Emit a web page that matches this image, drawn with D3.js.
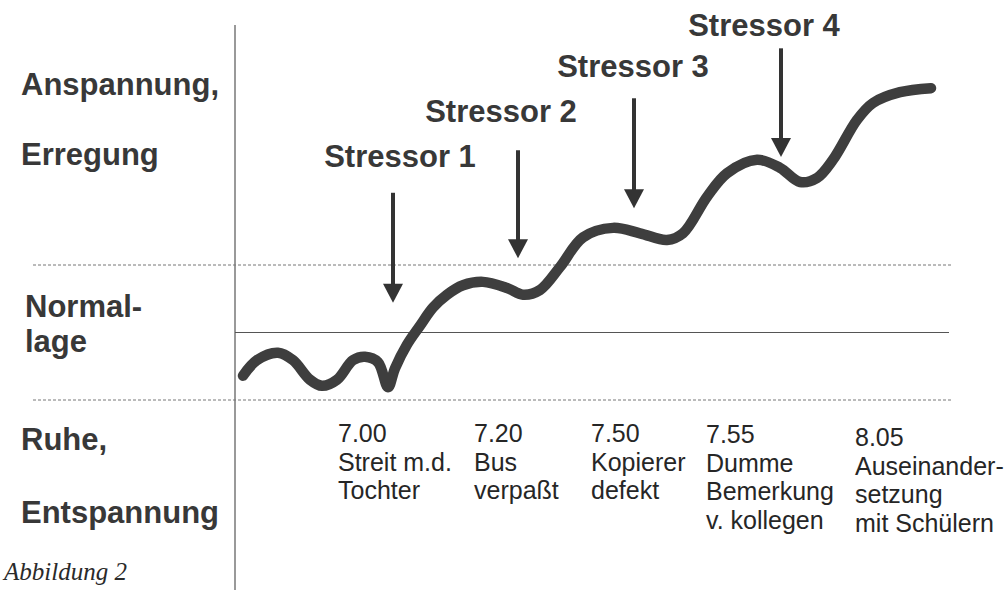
<!DOCTYPE html>
<html>
<head>
<meta charset="utf-8">
<title>Stressoren</title>
<script src="https://d3js.org/d3.v7.min.js"></script>
<style>
    body { margin: 0; background: #fff; }
    svg { display: block; }
    .lvl { font-family: "Liberation Sans", Arial, sans-serif; font-weight: bold; font-size: 31px; fill: #383838; }
    .evt { font-family: "Liberation Sans", Arial, sans-serif; font-size: 25px; fill: #262626; }
    .cap { font-family: "Liberation Serif", serif; font-style: italic; font-size: 25px; fill: #2a2a2a; }
</style>
</head>
<body>
<div id="cont"></div>
<script>
    // curve: t = position along the time axis, level: 0 = Ruhe line, 1 = Normal, 2 = upper line
    var curveT = [8, 22, 43, 58, 75, 87, 102, 118, 130, 143, 153, 160, 172, 185, 198, 212, 228, 248, 272, 288, 305,
                  325, 348, 378, 405, 432, 448, 472, 492, 522, 545, 565, 582, 598, 622, 638, 665, 696];
    var curveLevel = [0.36, 0.59, 0.70, 0.59, 0.30, 0.21, 0.30, 0.59, 0.64, 0.56, 0.19, 0.47, 0.82, 1.10, 1.37, 1.56,
                      1.70, 1.75, 1.66, 1.56, 1.63, 1.97, 2.41, 2.55, 2.47, 2.37, 2.47, 3.01, 3.36, 3.56, 3.44, 3.23,
                      3.29, 3.56, 4.15, 4.40, 4.56, 4.62];

    var stressorNames = ['Stressor 1', 'Stressor 2', 'Stressor 3', 'Stressor 4'];
    var stressorT = [158, 283, 399, 546];
    var arrowFrom = [3.07, 3.70, 4.47, 5.21];
    var arrowTo = [1.44, 2.10, 2.84, 3.60];

    var eventT = [103, 239, 356, 471, 620];
    var eventLines = [
        ['7.00', 'Streit m.d.', 'Tochter'],
        ['7.20', 'Bus', 'verpaßt'],
        ['7.50', 'Kopierer', 'defekt'],
        ['7.55', 'Dumme', 'Bemerkung', 'v. kollegen'],
        ['8.05', 'Auseinander-', 'setzung', 'mit Schülern']
    ];

    var levelLabels = [
        { lines: ['Anspannung,', 'Erregung'], y: 95, gap: 70, x: 21 },
        { lines: ['Normal-', 'lage'], y: 317, gap: 35, x: 25 },
        { lines: ['Ruhe,', 'Entspannung'], y: 450, gap: 73, x: 21 }
    ];

    var width = 1008, height = 590;

    var x = d3.scaleLinear().domain([0, 700]).range([235, 935]);
    var y = d3.scaleLinear().domain([0, 2]).range([400, 265]);

    var svg = d3.select('#cont').append('svg')
        .attr('width', width)
        .attr('height', height);

    // reference lines
    svg.append('line')
        .attr('x1', x(0)).attr('x2', x(0))
        .attr('y1', 25).attr('y2', height)
        .attr('stroke', '#555').attr('stroke-width', 1.2);

    [2, 0].forEach(function(l) {
        svg.append('line')
            .attr('x1', x(-202)).attr('x2', x(718))
            .attr('y1', y(l)).attr('y2', y(l))
            .attr('stroke', '#777').attr('stroke-width', 1)
            .attr('stroke-dasharray', '3,2');
    });

    svg.append('line')
        .attr('x1', x(0)).attr('x2', x(714))
        .attr('y1', y(1)).attr('y2', y(1))
        .attr('stroke', '#555').attr('stroke-width', 1.2);

    // curve
    var pts = curveT.map(function(t, i) { return [t, curveLevel[i]]; });
    var line = d3.line()
        .x(function(d) { return x(d[0]); })
        .y(function(d) { return y(d[1]); })
        .curve(d3.curveCatmullRom.alpha(0.5));

    svg.append('path')
        .attr('d', line(pts))
        .attr('fill', 'none')
        .attr('stroke', '#3e3e3e')
        .attr('stroke-width', 10.5)
        .attr('stroke-linecap', 'round')
        .attr('stroke-linejoin', 'round');

    // arrows
    var headW = 10, headH = 19;
    var labelDx = [7, -17, -1, -17];
    var labelGap = [26, 28, 21, 12];
    stressorNames.forEach(function(name, i) {
        var ax = x(stressorT[i]), y0 = y(arrowFrom[i]), y1 = y(arrowTo[i]);
        svg.append('line')
            .attr('x1', ax).attr('x2', ax)
            .attr('y1', y0).attr('y2', y1 - headH + 2)
            .attr('stroke', '#333').attr('stroke-width', 4);
        svg.append('path')
            .attr('d', 'M' + (ax - headW) + ',' + (y1 - headH) + 'L' + (ax + headW) + ',' + (y1 - headH) + 'L' + ax + ',' + y1 + 'Z')
            .attr('fill', '#333');
        svg.append('text')
            .attr('class', 'lvl')
            .attr('x', ax + labelDx[i])
            .attr('y', y0 - labelGap[i])
            .attr('text-anchor', 'middle')
            .text(name);
    });

    // event labels
    var evtBase = [442, 442, 442, 443, 446];
    eventLines.forEach(function(lines, i) {
        var t = svg.append('text')
            .attr('class', 'evt')
            .attr('x', x(eventT[i]))
            .attr('y', evtBase[i]);
        lines.forEach(function(s, j) {
            t.append('tspan')
                .attr('x', x(eventT[i]))
                .attr('dy', j === 0 ? 0 : 28.5)
                .text(s);
        });
    });

    // level labels
    levelLabels.forEach(function(d) {
        d.lines.forEach(function(s, j) {
            svg.append('text')
                .attr('class', 'lvl')
                .attr('x', d.x)
                .attr('y', d.y + j * d.gap)
                .text(s);
        });
    });

    svg.append('text')
        .attr('class', 'cap')
        .attr('x', 4)
        .attr('y', 580)
        .text('Abbildung 2');
</script>
</body>
</html>
